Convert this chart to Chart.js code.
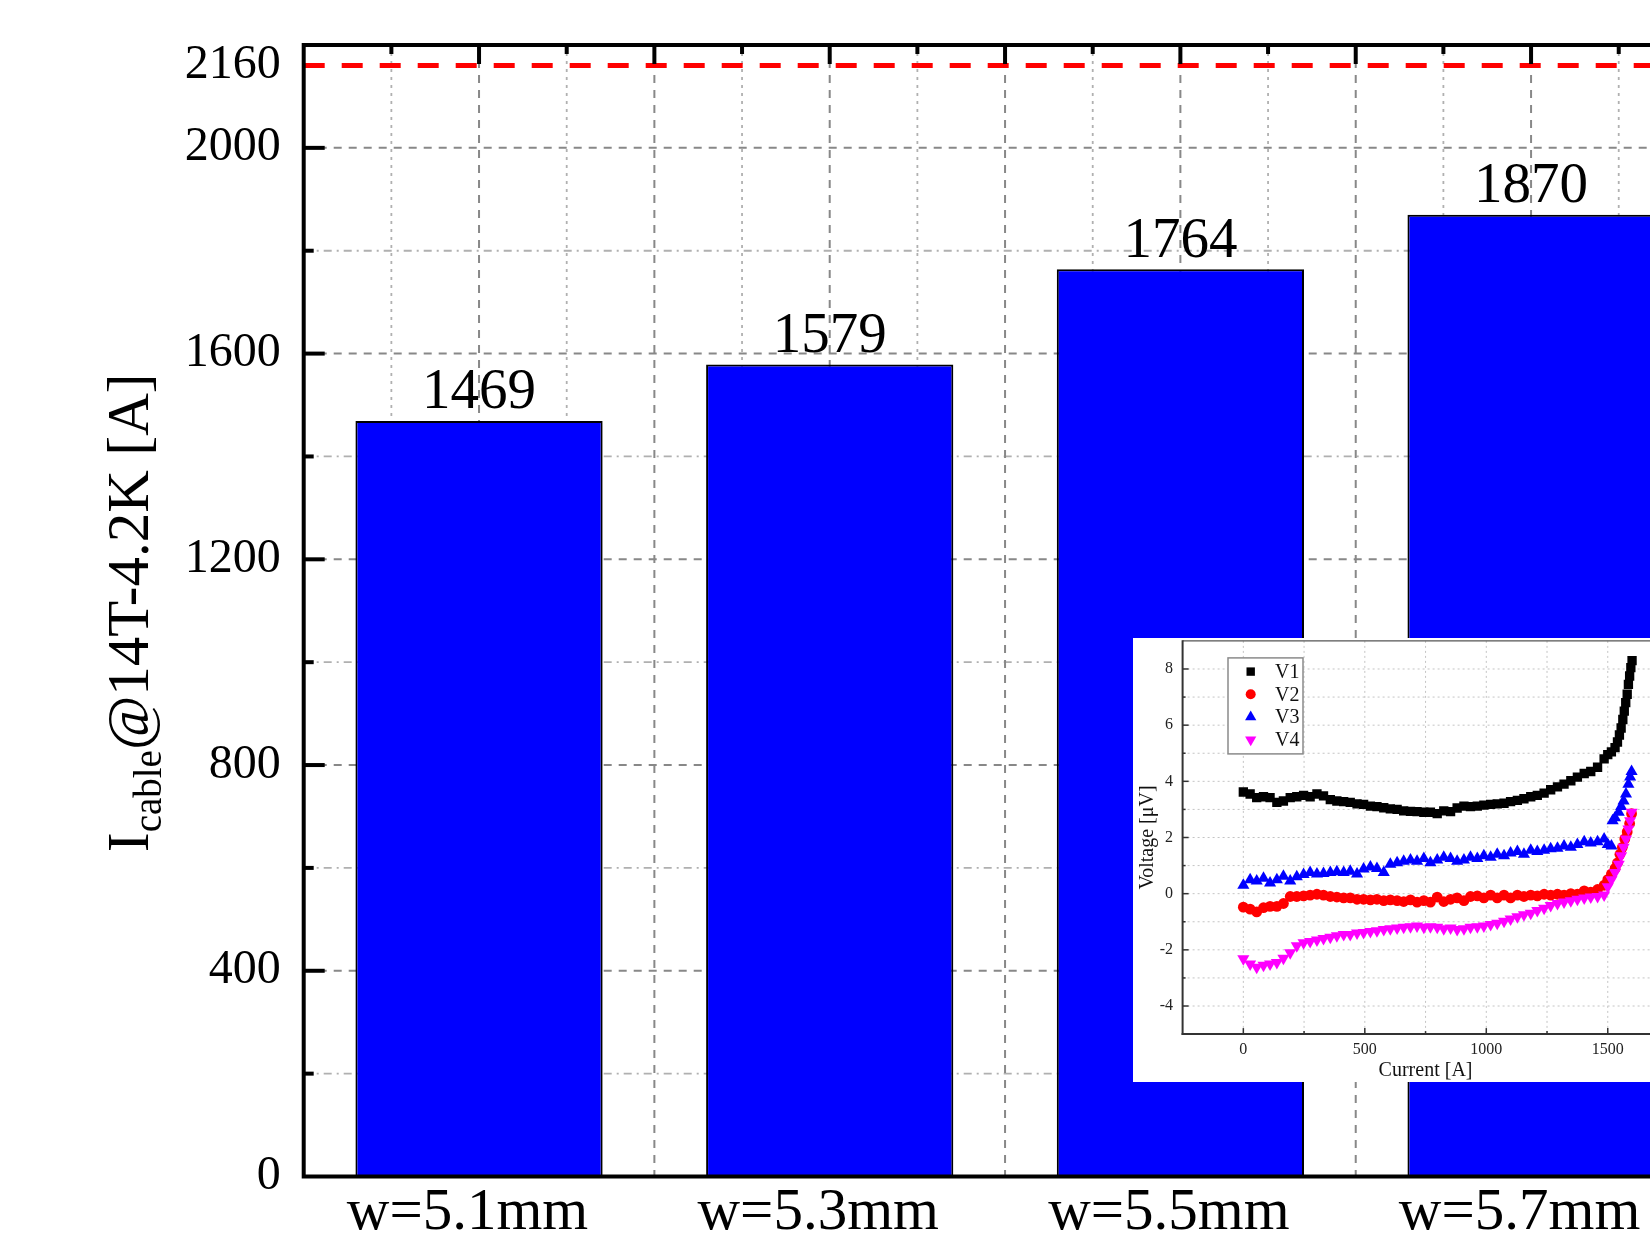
<!DOCTYPE html>
<html>
<head>
<meta charset="utf-8">
<script src="https://cdn.jsdelivr.net/npm/chart.js@4.4.1/dist/chart.umd.min.js"></script>
<style>
html, body { margin: 0; padding: 0; overflow: hidden; background: #fff; }
#wrap { position: relative; width: 1650px; height: 1248px; overflow: hidden; background: #fff; }
#main { position: absolute; left: 0; top: 0; }
#inset { position: absolute; left: 1133px; top: 638px; background: #fff; }
</style>
</head>
<body>
<div id="wrap">
  <canvas id="main" width="1720" height="1248"></canvas>
  <canvas id="inset" width="560" height="444"></canvas>
</div>
<script>
// ---------------- main bar chart data ----------------
const categories = ['w=5.1mm', 'w=5.3mm', 'w=5.5mm', 'w=5.7mm'];
const criticalCurrent = [1469, 1579, 1764, 1870];
const yTickValues = [0, 400, 800, 1200, 1600, 2000, 2160];
const yMinorValues = [200, 600, 1000, 1400, 1800];
const limitCurrent = 2160;
const titleMain = 'I';
const titleSub = 'cable';
const titleRest = '@14T-4.2K [A]';

// ---------------- inset V-I data ----------------
const seriesNames = ['V1', 'V2', 'V3', 'V4'];
const seriesColors = ['#000000', '#ff0000', '#0000ff', '#ff00ff'];

const v1Current = [0, 28, 55, 83, 110, 138, 165, 193, 220, 248, 275, 303, 330, 358, 385, 413, 440, 468, 495, 523, 550, 578, 605, 633, 660, 688, 715, 743, 770, 798, 825, 853, 880, 908, 935, 963, 990, 1018, 1045, 1073, 1100, 1128, 1155, 1183, 1210, 1238, 1265, 1293, 1320, 1348, 1375, 1403, 1430, 1458, 1485, 1500, 1515, 1530, 1540, 1548, 1555, 1562, 1568, 1574, 1580, 1585, 1590, 1595, 1600];
const v1Voltage = [3.62, 3.55, 3.42, 3.45, 3.42, 3.25, 3.3, 3.42, 3.45, 3.5, 3.45, 3.55, 3.48, 3.35, 3.3, 3.28, 3.25, 3.2, 3.18, 3.12, 3.1, 3.06, 3.02, 3.0, 2.95, 2.93, 2.92, 2.9, 2.9, 2.85, 2.95, 2.92, 3.05, 3.12, 3.1, 3.12, 3.15, 3.18, 3.2, 3.22, 3.28, 3.32, 3.38, 3.45, 3.5, 3.58, 3.7, 3.8, 3.9, 4.02, 4.15, 4.28, 4.35, 4.5, 4.8, 4.95, 5.05, 5.2, 5.4, 5.65, 5.9, 6.2, 6.5, 6.8, 7.1, 7.45, 7.75, 8.05, 8.3];

const v2Current = [0, 28, 55, 83, 110, 138, 165, 193, 220, 248, 275, 303, 330, 358, 385, 413, 440, 468, 495, 523, 550, 578, 605, 633, 660, 688, 715, 743, 770, 798, 825, 853, 880, 908, 935, 963, 990, 1018, 1045, 1073, 1100, 1128, 1155, 1183, 1210, 1238, 1265, 1293, 1320, 1348, 1375, 1403, 1430, 1458, 1485, 1500, 1515, 1530, 1540, 1550, 1560, 1570, 1580, 1590, 1598];
const v2Voltage = [-0.48, -0.55, -0.65, -0.5, -0.45, -0.45, -0.35, -0.1, -0.1, -0.08, -0.05, -0.02, -0.05, -0.1, -0.12, -0.15, -0.15, -0.2, -0.2, -0.22, -0.2, -0.25, -0.22, -0.25, -0.28, -0.22, -0.3, -0.25, -0.3, -0.12, -0.28, -0.2, -0.15, -0.25, -0.1, -0.08, -0.15, -0.05, -0.15, -0.05, -0.15, -0.05, -0.1, -0.05, -0.08, -0.02, -0.05, -0.02, -0.05, 0.0, -0.02, 0.1, 0.05, 0.15, 0.3, 0.5, 0.7, 0.9, 1.1, 1.4, 1.65, 1.95, 2.2, 2.5, 2.85];

const v3Current = [0, 28, 55, 83, 110, 138, 165, 193, 220, 248, 275, 303, 330, 358, 385, 413, 440, 468, 495, 523, 550, 578, 605, 633, 660, 688, 715, 743, 770, 798, 825, 853, 880, 908, 935, 963, 990, 1018, 1045, 1073, 1100, 1128, 1155, 1183, 1210, 1238, 1265, 1293, 1320, 1348, 1375, 1403, 1430, 1458, 1485, 1500, 1515, 1520, 1530, 1545, 1555, 1565, 1575, 1585, 1592, 1598];
const v3Voltage = [0.3, 0.5, 0.45, 0.55, 0.38, 0.5, 0.62, 0.45, 0.6, 0.68, 0.75, 0.7, 0.72, 0.75, 0.78, 0.75, 0.8, 0.7, 0.88, 0.95, 0.9, 0.75, 1.05, 1.1, 1.15, 1.2, 1.15, 1.25, 1.1, 1.2, 1.3, 1.25, 1.15, 1.2, 1.3, 1.25, 1.35, 1.3, 1.4, 1.35, 1.45, 1.5, 1.4, 1.55, 1.5, 1.55, 1.6, 1.62, 1.7, 1.65, 1.75, 1.85, 1.8, 1.85, 1.95, 1.75, 1.7, 2.6, 2.7, 2.9, 3.1, 3.3, 3.55, 3.9, 4.15, 4.35];

const v4Current = [0, 28, 55, 83, 110, 138, 165, 193, 220, 248, 275, 303, 330, 358, 385, 413, 440, 468, 495, 523, 550, 578, 605, 633, 660, 688, 715, 743, 770, 798, 825, 853, 880, 908, 935, 963, 990, 1018, 1045, 1073, 1100, 1128, 1155, 1183, 1210, 1238, 1265, 1293, 1320, 1348, 1375, 1403, 1430, 1458, 1485, 1500, 1515, 1530, 1545, 1555, 1565, 1575, 1585, 1592, 1598];
const v4Voltage = [-2.32, -2.5, -2.62, -2.55, -2.5, -2.45, -2.3, -2.1, -1.85, -1.75, -1.7, -1.65, -1.6, -1.55, -1.5, -1.45, -1.45, -1.4, -1.38, -1.35, -1.32, -1.28, -1.25, -1.22, -1.2, -1.18, -1.15, -1.2, -1.18, -1.2, -1.25, -1.22, -1.28, -1.25, -1.2, -1.18, -1.15, -1.1, -1.05, -0.98, -0.9, -0.82, -0.75, -0.7, -0.6, -0.52, -0.42, -0.35, -0.3, -0.25, -0.2, -0.15, -0.12, -0.1, -0.05, 0.25, 0.5, 0.75, 1.05, 1.35, 1.65, 1.95, 2.3, 2.6, 2.9];

const insetXTicks = [0, 500, 1000, 1500];
const insetXMinor = [250, 750, 1250];
const insetYTicks = [-4, -2, 0, 2, 4, 6, 8];
const insetYMinor = [-3, -1, 1, 3, 5, 7];

const FONT = '"Liberation Serif", "Times New Roman", serif';

function line(ctx, x1, y1, x2, y2, dash, color, width) {
  ctx.save();
  ctx.beginPath();
  ctx.setLineDash(dash);
  ctx.strokeStyle = color;
  ctx.lineWidth = width;
  ctx.moveTo(x1, y1);
  ctx.lineTo(x2, y2);
  ctx.stroke();
  ctx.restore();
}

// half-category positions (main vertical grid) and quarter positions (minor)
function halfSteps(n) { const out = []; for (let k = 0; k <= 2 * (n - 1) + 1; k++) out.push(k * 0.5); return out; }
function quarterSteps(n) { const out = []; for (let k = 0; k < 2 * n; k++) out.push(-0.25 + k * 0.5); return out; }

const mainDecor = {
  id: 'mainDecor',
  beforeDatasetsDraw(chart) {
    const { ctx, chartArea: a, scales: { x, y } } = chart;
    const n = categories.length;
    yMinorValues.forEach(v => { const py = y.getPixelForValue(v); line(ctx, a.left, py, a.right, py, [8, 5, 2, 5], '#b0b0b0', 1.8); });
    quarterSteps(n).forEach(v => { const px = x.getPixelForValue(v); line(ctx, px, a.top, px, a.bottom, [3, 5], '#b0b0b0', 1.8); });
    yTickValues.filter(v => v > 0 && v !== limitCurrent).forEach(v => { const py = y.getPixelForValue(v); line(ctx, a.left, py, a.right, py, [8, 7], '#888888', 2); });
    halfSteps(n).forEach(v => { const px = x.getPixelForValue(v); line(ctx, px, a.top, px, a.bottom, [8, 7], '#888888', 2); });
  },
  afterDatasetsDraw(chart) {
    const { ctx, chartArea: a, scales: { x, y } } = chart;
    const n = categories.length;
    // value labels
    ctx.save();
    ctx.font = '57px ' + FONT;
    ctx.fillStyle = '#000';
    ctx.textAlign = 'center';
    ctx.textBaseline = 'alphabetic';
    chart.getDatasetMeta(0).data.forEach((bar, i) => {
      ctx.fillText(String(criticalCurrent[i]), bar.x, bar.y - 12.5);
    });
    ctx.restore();
    // limit line
    const ly = y.getPixelForValue(limitCurrent);
    line(ctx, a.left, ly, a.right, ly, [21, 17], '#ff0000', 5);
    // frame
    ctx.save();
    ctx.strokeStyle = '#000';
    ctx.lineWidth = 4;
    ctx.strokeRect(a.left, a.top, a.right - a.left, a.bottom - a.top);
    ctx.restore();
    // inward ticks
    yTickValues.filter(v => v !== limitCurrent && v > 0).forEach(v => { const py = y.getPixelForValue(v); line(ctx, a.left, py, a.left + 21, py, [], '#000', 4); });
    yMinorValues.forEach(v => { const py = y.getPixelForValue(v); line(ctx, a.left, py, a.left + 10, py, [], '#000', 4); });
    halfSteps(n).forEach(v => { const px = x.getPixelForValue(v); line(ctx, px, a.top, px, a.top + 19, [], '#000', 4); });
    quarterSteps(n).forEach(v => { const px = x.getPixelForValue(v); line(ctx, px, a.top, px, a.top + 9, [], '#000', 4); });
  },
  afterDraw(chart) {
    const { ctx, chartArea: a } = chart;
    ctx.save();
    ctx.translate(a.left - 156, (a.top + a.bottom) / 2 + 2);
    ctx.rotate(-Math.PI / 2);
    ctx.fillStyle = '#000';
    ctx.textBaseline = 'alphabetic';
    ctx.textAlign = 'left';
    const big = '59px ' + FONT, small = '39px ' + FONT;
    ctx.font = big;
    const w1 = ctx.measureText(titleMain).width;
    const w3 = ctx.measureText(titleRest).width;
    ctx.font = small;
    const w2 = ctx.measureText(titleSub).width;
    let sx = -(w1 + w2 + w3) / 2;
    ctx.font = big; ctx.fillText(titleMain, sx, 0); sx += w1;
    ctx.font = small; ctx.fillText(titleSub, sx, 13); sx += w2;
    ctx.font = big; ctx.fillText(titleRest, sx, 0);
    ctx.restore();
  }
};

new Chart(document.getElementById('main'), {
  type: 'bar',
  data: {
    labels: categories,
    datasets: [{
      data: criticalCurrent,
      backgroundColor: '#0000ff',
      borderColor: '#000000',
      borderWidth: 2,
      barPercentage: 0.705,
      categoryPercentage: 1
    }]
  },
  options: {
    responsive: false,
    animation: false,
    devicePixelRatio: 1,
    events: [],
    layout: { autoPadding: false, padding: { left: 0, top: 45, right: 13.6, bottom: 0 } },
    plugins: { legend: { display: false }, tooltip: { enabled: false } },
    scales: {
      x: {
        type: 'category',
        offset: true,
        grid: { display: false, drawTicks: false, tickLength: 0 },
        border: { display: false },
        ticks: { font: { family: FONT, size: 59 }, color: '#000', padding: 2, labelOffset: -11.5, maxRotation: 0, autoSkip: false },
        afterFit(s) { s.height = 71.5; s.paddingLeft = 0; s.paddingRight = 0; }
      },
      y: {
        min: 0,
        max: 2200,
        grid: { display: false, drawTicks: false, tickLength: 0 },
        border: { display: false },
        afterBuildTicks(s) { s.ticks = yTickValues.map(v => ({ value: v })); },
        ticks: { font: { family: FONT, size: 48 }, color: '#000', padding: 23, callback: v => String(v), autoSkip: false },
        afterFit(s) { s.width = 303.7; s.paddingTop = 0; s.paddingBottom = 0; }
      }
    }
  },
  plugins: [mainDecor]
});

// ---------------- inset ----------------
function marker(ctx, style, x, y, r, color) {
  ctx.save();
  ctx.fillStyle = color;
  ctx.beginPath();
  if (style === 'rect') {
    ctx.rect(x - r, y - r, 2 * r, 2 * r);
  } else if (style === 'circle') {
    ctx.arc(x, y, r, 0, Math.PI * 2);
  } else if (style === 'up') {
    ctx.moveTo(x, y - r); ctx.lineTo(x + r * 0.866, y + r * 0.5); ctx.lineTo(x - r * 0.866, y + r * 0.5); ctx.closePath();
  } else {
    ctx.moveTo(x, y + r); ctx.lineTo(x + r * 0.866, y - r * 0.5); ctx.lineTo(x - r * 0.866, y - r * 0.5); ctx.closePath();
  }
  ctx.fill();
  ctx.restore();
}

const legendStyles = [['rect', 4.2], ['circle', 5], ['up', 6.5], ['down', 6.5]];

const insetDecor = {
  id: 'insetDecor',
  beforeDatasetsDraw(chart) {
    const { ctx, chartArea: a, scales: { x, y } } = chart;
    insetXTicks.concat(insetXMinor).forEach(v => { const px = x.getPixelForValue(v); line(ctx, px, a.top, px, a.bottom, [2, 3], '#c4c4c4', 1); });
    insetYTicks.concat(insetYMinor).forEach(v => { const py = y.getPixelForValue(v); line(ctx, a.left, py, a.right, py, [2, 3], '#c4c4c4', 1); });
  },
  afterDatasetsDraw(chart) {
    const { ctx, chartArea: a, scales: { x, y } } = chart;
    // frame
    line(ctx, a.left, a.top, a.right, a.top, [], '#555', 1.2);
    line(ctx, a.left, a.top - 0.6, a.left, a.bottom + 1, [], '#333', 2);
    line(ctx, a.left - 1, a.bottom, a.right, a.bottom, [], '#333', 2);
    insetYTicks.forEach(v => { const py = y.getPixelForValue(v); line(ctx, a.left, py, a.left + 6, py, [], '#333', 1.5); });
    insetYMinor.forEach(v => { const py = y.getPixelForValue(v); line(ctx, a.left, py, a.left + 3, py, [], '#333', 1.5); });
    insetXTicks.forEach(v => { const px = x.getPixelForValue(v); line(ctx, px, a.bottom, px, a.bottom - 6, [], '#333', 1.5); });
    insetXMinor.forEach(v => { const px = x.getPixelForValue(v); line(ctx, px, a.bottom, px, a.bottom - 3, [], '#333', 1.5); });
    // legend
    const bx = a.left + 45.4, by = a.top + 17;
    ctx.save();
    ctx.fillStyle = '#fff';
    ctx.fillRect(bx, by, 75, 96);
    ctx.strokeStyle = '#8a8a8a';
    ctx.lineWidth = 1.5;
    ctx.strokeRect(bx, by, 75, 96);
    ctx.font = '20px ' + FONT;
    ctx.fillStyle = '#111';
    ctx.textAlign = 'left';
    ctx.textBaseline = 'middle';
    seriesNames.forEach((name, i) => {
      const ry = by + 13.7 + i * 22.7;
      marker(ctx, legendStyles[i][0], bx + 22.7, ry, legendStyles[i][1], seriesColors[i]);
      ctx.fillText(name, bx + 47, ry + 1);
    });
    ctx.restore();
  },
  afterDraw(chart) {
    const { ctx, chartArea: a } = chart;
    ctx.save();
    ctx.font = '20px ' + FONT;
    ctx.fillStyle = '#111';
    ctx.textAlign = 'center';
    ctx.textBaseline = 'alphabetic';
    ctx.fillText('Current [A]', (a.left + a.right) / 2, 438);
    ctx.translate(20, (a.top + a.bottom) / 2);
    ctx.rotate(-Math.PI / 2);
    ctx.fillText('Voltage [\u03bcV]', 0, 0);
    ctx.restore();
  }
};

function pts(xs, ys) { return xs.map((c, i) => ({ x: c, y: ys[i] })); }

new Chart(document.getElementById('inset'), {
  type: 'scatter',
  data: {
    datasets: [
      { label: seriesNames[0], data: pts(v1Current, v1Voltage), pointStyle: 'rect', pointRadius: 6.6, backgroundColor: seriesColors[0], borderColor: seriesColors[0], borderWidth: 0, order: 4 },
      { label: seriesNames[1], data: pts(v2Current, v2Voltage), pointStyle: 'circle', pointRadius: 5.4, backgroundColor: seriesColors[1], borderColor: seriesColors[1], borderWidth: 0, order: 3 },
      { label: seriesNames[2], data: pts(v3Current, v3Voltage), pointStyle: 'triangle', pointRadius: 7, backgroundColor: seriesColors[2], borderColor: seriesColors[2], borderWidth: 0, order: 2 },
      { label: seriesNames[3], data: pts(v4Current, v4Voltage), pointStyle: 'triangle', pointRotation: 180, pointRadius: 7, backgroundColor: seriesColors[3], borderColor: seriesColors[3], borderWidth: 0, order: 1 }
    ]
  },
  options: {
    responsive: false,
    animation: false,
    devicePixelRatio: 1,
    events: [],
    layout: { autoPadding: false, padding: { left: 0, top: 2.9, right: 24.5, bottom: 0 } },
    plugins: { legend: { display: false }, tooltip: { enabled: false } },
    scales: {
      x: {
        type: 'linear',
        min: -250,
        max: 1750,
        grid: { display: false, drawTicks: false, tickLength: 0 },
        border: { display: false },
        afterBuildTicks(s) { s.ticks = insetXTicks.map(v => ({ value: v })); },
        ticks: { font: { family: FONT, size: 16 }, color: '#222', padding: 6, callback: v => String(v), autoSkip: false, maxRotation: 0 },
        afterFit(s) { s.height = 47.9; s.paddingLeft = 0; s.paddingRight = 0; }
      },
      y: {
        type: 'linear',
        min: -5,
        max: 9,
        grid: { display: false, drawTicks: false, tickLength: 0 },
        border: { display: false },
        afterBuildTicks(s) { s.ticks = insetYTicks.map(v => ({ value: v })); },
        ticks: { font: { family: FONT, size: 16 }, color: '#222', padding: 9.5, callback: v => String(v), autoSkip: false },
        afterFit(s) { s.width = 49.6; s.paddingTop = 0; s.paddingBottom = 0; }
      }
    }
  },
  plugins: [insetDecor]
});
</script>
</body>
</html>
